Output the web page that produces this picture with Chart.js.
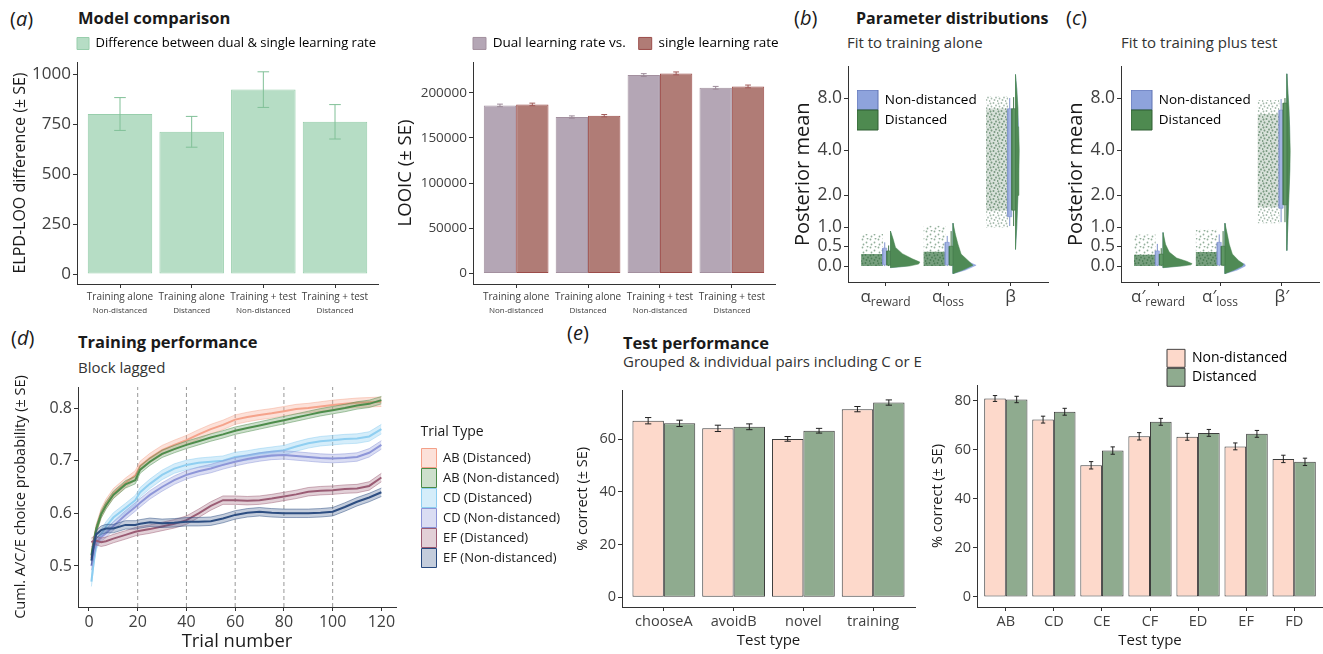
<!DOCTYPE html>
<html>
<head>
<meta charset="utf-8">
<title>Model comparison, parameter distributions, training and test performance</title>
<script src="https://cdn.jsdelivr.net/npm/chart.js@4.4.1/dist/chart.umd.min.js"></script>
<style>
  body { margin: 0; background: #fff; }
  #fig { position: relative; width: 1323px; height: 654px; overflow: hidden; font-family: "Open Sans", sans-serif; color: #1a1a1a; }
  #fig canvas { position: absolute; }
  .txt { position: absolute; white-space: nowrap; line-height: 1; }
  .tag { font-size: 20px; }
  .head { font-size: 16.5px; font-weight: 700; }
  .sub { font-size: 15px; color: #333; }
</style>
</head>
<body>
<div id="fig">
  <div class="txt tag" style="left:10px;top:9px">(<i>a</i>)</div>
  <div class="txt head" style="left:78px;top:10px">Model comparison</div>
  <div class="txt tag" style="left:794px;top:8px">(<i>b</i>)</div>
  <div class="txt head" style="left:856px;top:9.5px;font-size:16px">Parameter distributions</div>
  <div class="txt sub" style="left:847px;top:35px">Fit to training alone</div>
  <div class="txt tag" style="left:1066px;top:8px">(<i>c</i>)</div>
  <div class="txt sub" style="left:1121px;top:35px">Fit to training plus test</div>
  <div class="txt tag" style="left:11px;top:328px">(<i>d</i>)</div>
  <div class="txt head" style="left:78px;top:334px">Training performance</div>
  <div class="txt sub" style="left:78px;top:359.5px">Block lagged</div>
  <div class="txt tag" style="left:567px;top:322.5px">(<i>e</i>)</div>
  <div class="txt head" style="left:623px;top:335px">Test performance</div>
  <div class="txt sub" style="left:623px;top:353.5px">Grouped &amp; individual pairs including C or E</div>
</div>
<script>
// ---- (a) model comparison ----
const MODEL_FITS = ['Training alone', 'Training alone', 'Training + test', 'Training + test'];
const MODEL_GROUPS = ['Non-distanced', 'Distanced', 'Non-distanced', 'Distanced'];
const ELPD_DIFF = [800, 711, 922, 761];
const ELPD_SE = [82, 77, 89, 86];
const ELPD_TICKS = [0, 250, 500, 750, 1000];
const LOOIC_DUAL = [186000, 173100, 219500, 205500];
const LOOIC_SINGLE = [187100, 174600, 221400, 207000];
const LOOIC_SE = [1400, 1300, 1600, 1500];
const LOOIC_TICKS = [0, 50000, 100000, 150000, 200000];

// ---- (b) (c) parameter distributions ----
const PARAM_TICKS = [0, 0.5, 1, 2, 4, 8];
const B_NAMES = [['α', 'reward'], ['α', 'loss'], ['β', '']];
const C_NAMES = [['α′', 'reward'], ['α′', 'loss'], ['β′', '']];
// jittered posterior means: full spread and dense core
const B_CLOUD = [[0, 0.82], [0, 1.05], [1.0, 8.2]];
const B_CORE = [[0, 0.3], [0, 0.36], [1.5, 7.0]];
// boxplots: [lower whisker, Q1, Q3, upper whisker]
const B_BOX_ND = [[0, 0.03, 0.45, 0.6], [0, 0.03, 0.6, 0.77], [1.04, 1.31, 6.97, 8.0]];
const B_BOX_D = [[0, 0.02, 0.38, 0.52], [0, 0.02, 0.5, 0.9], [1.04, 1.51, 6.98, 8.1]];
// half violins: value levels and density widths
const B_VIO_Y = [[-0.04, 0, 0.05, 0.1, 0.18, 0.31, 0.47, 0.7, 0.9], [-0.19, -0.1, 0.02, 0.14, 0.3, 0.55, 0.8, 1.12], [0.42, 1, 2, 3, 4, 5.5, 7, 9, 10.8]];
const B_VIO_D = [[0, 0.3, 0.45, 0.47, 0.35, 0.19, 0.08, 0.04, 0], [0, 0.16, 0.32, 0.24, 0.13, 0.08, 0.04, 0], [0, 0.02, 0.04, 0.055, 0.06, 0.05, 0.04, 0.02, 0]];
const B_VIO_ND = [[0, 0.25, 0.38, 0.4, 0.3, 0.16, 0.07, 0.03, 0], [0, 0.2, 0.37, 0.2, 0.1, 0.06, 0.03, 0], [0, 0.02, 0.035, 0.05, 0.055, 0.045, 0.035, 0.02, 0]];
const C_CLOUD = [[0, 0.81], [0, 0.94], [1.12, 7.8]];
const C_CORE = [[0, 0.28], [0, 0.35], [1.6, 6.5]];
const C_BOX_ND = [[0, 0.02, 0.38, 0.56], [0, 0.03, 0.6, 0.81], [1.15, 1.57, 6.85, 7.9]];
const C_BOX_D = [[0, 0.02, 0.3, 0.45], [0, 0.02, 0.5, 0.9], [1.15, 1.68, 7.5, 8.0]];
const C_VIO_Y = [[-0.04, 0, 0.03, 0.06, 0.12, 0.2, 0.35, 0.55, 0.86], [-0.19, -0.1, 0, 0.05, 0.14, 0.3, 0.55, 0.8, 1.12], [0.39, 1, 2, 3, 4, 5.5, 7, 9, 10.9]];
const C_VIO_D = [[0, 0.3, 0.45, 0.47, 0.38, 0.22, 0.1, 0.04, 0], [0, 0.15, 0.28, 0.3, 0.22, 0.12, 0.07, 0.04, 0], [0, 0.015, 0.035, 0.05, 0.055, 0.045, 0.035, 0.015, 0]];
const C_VIO_ND = [[0, 0.25, 0.38, 0.4, 0.32, 0.18, 0.08, 0.03, 0], [0, 0.2, 0.33, 0.32, 0.18, 0.1, 0.06, 0.03, 0], [0, 0.015, 0.03, 0.045, 0.05, 0.04, 0.03, 0.015, 0]];

// ---- (d) training performance ----
const TRIALS = [1, 2, 3, 5, 7, 10, 15, 19, 21, 25, 30, 35, 40, 45, 50, 55, 60, 65, 70, 75, 80, 85, 90, 95, 100, 105, 110, 115, 120];
const AB_DIST = [.515, .545, .570, .600, .618, .638, .658, .672, .690, .705, .720, .730, .739, .750, .760, .768, .778, .783, .787, .790, .794, .798, .800, .803, .806, .808, .810, .811, .812];
const AB_NONDIST = [.520, .548, .570, .598, .615, .635, .655, .663, .683, .698, .713, .722, .730, .737, .744, .750, .757, .762, .767, .772, .777, .782, .787, .792, .796, .800, .805, .808, .815];
const CD_DIST = [.470, .510, .540, .560, .575, .592, .610, .625, .640, .656, .673, .685, .692, .696, .698, .700, .707, .710, .714, .717, .720, .727, .733, .737, .739, .741, .742, .746, .760];
const CD_NONDIST = [.500, .525, .545, .555, .562, .576, .597, .612, .620, .635, .650, .663, .673, .680, .685, .692, .698, .703, .707, .710, .711, .709, .707, .705, .704, .705, .707, .715, .730];
const EF_DIST = [.545, .548, .548, .545, .547, .552, .559, .565, .567, .570, .575, .580, .587, .600, .614, .625, .625, .624, .625, .628, .632, .636, .641, .643, .644, .646, .647, .652, .668];
const EF_NONDIST = [.510, .540, .560, .568, .571, .571, .578, .578, .580, .583, .581, .582, .584, .584, .585, .590, .597, .601, .603, .601, .600, .600, .600, .601, .603, .612, .622, .630, .640];
const TRIAL_TYPES = ['AB (Distanced)', 'AB (Non-distanced)', 'CD (Distanced)', 'CD (Non-distanced)', 'EF (Distanced)', 'EF (Non-distanced)'];
const TRIAL_SE = [0.009, 0.007, 0.009, 0.008, 0.008, 0.008];
const BLOCK_EDGES = [20, 40, 60, 80, 100];
const TRIAL_TICKS = [0, 20, 40, 60, 80, 100, 120];
const PROB_TICKS = [0.5, 0.6, 0.7, 0.8];

// ---- (e) test performance ----
const TEST_TYPES = ['chooseA', 'avoidB', 'novel', 'training'];
const TEST_ND = [67.0, 64.1, 60.1, 71.4];
const TEST_D = [66.0, 64.7, 63.2, 73.9];
const TEST_ND_SE = [1.2, 1.2, 0.9, 1.0];
const TEST_D_SE = [1.2, 1.1, 0.9, 1.0];
const TEST_TICKS = [0, 20, 40, 60];
const PAIRS = ['AB', 'CD', 'CE', 'CF', 'ED', 'EF', 'FD'];
const PAIR_ND = [80.8, 72.2, 53.6, 65.4, 65.2, 61.3, 56.2];
const PAIR_D = [80.4, 75.4, 59.6, 71.3, 66.8, 66.4, 55.0];
const PAIR_ND_SE = [1.2, 1.4, 1.5, 1.5, 1.4, 1.4, 1.5];
const PAIR_D_SE = [1.3, 1.4, 1.5, 1.4, 1.4, 1.4, 1.5];
const PAIR_TICKS = [0, 20, 40, 60, 80];

const FONT = '"Open Sans", sans-serif';
Chart.defaults.font.family = FONT;
Chart.defaults.color = '#404040';
Chart.defaults.animation = false;

const TICK = '#404040';
const PINK = '#fdd9cb', SAGE = '#8fab8f', OUTLINE = '#3d3d3d';
const fig = document.getElementById('fig');

// pseudo-log y scale (asinh(x / 2)), as used for the parameter panels
const plog = v => Math.asinh(v / 2);
class PseudoLogScale extends Chart.LinearScale {
  static id = 'pseudoLog';
  getPixelForValue(value) {
    const a = plog(this.min), b = plog(this.max);
    return this.getPixelForDecimal((plog(value) - a) / (b - a));
  }
  getValueForPixel(pixel) {
    const a = plog(this.min), b = plog(this.max);
    return 2 * Math.sinh(a + this.getDecimalForPixel(pixel) * (b - a));
  }
}
Chart.register(PseudoLogScale);

function makeCanvas(area, m) {
  const c = document.createElement('canvas');
  const left = area.l - m.left, top = area.t - m.top;
  const w = area.r + m.right - left, h = area.b + m.bottom - top;
  c.width = w;
  c.height = h;
  Object.assign(c.style, { left: left + 'px', top: top + 'px', width: w + 'px', height: h + 'px' });
  fig.appendChild(c);
  return c;
}

function axis(o) {
  return {
    type: o.type || 'linear',
    position: o.pos,
    min: o.min,
    max: o.max,
    offset: false,
    afterBuildTicks: s => { s.ticks = o.ticks.map(v => ({ value: v })); },
    afterFit: s => { if (o.pos === 'left') s.width = o.fit; else s.height = o.fit; },
    grid: { display: true, offset: false, drawOnChartArea: false, drawTicks: true, tickLength: 4, tickColor: '#333', color: '#333', lineWidth: 1 },
    border: { display: true, color: '#333', width: 1 },
    ticks: {
      display: o.showLabels !== false, color: TICK, padding: o.pad ?? 2, font: { size: o.size || 14 },
      autoSkip: false, maxRotation: 0, minRotation: 0,
      callback: (v, i) => (o.labels ? o.labels[i] : v)
    },
    title: { display: !!o.title, text: o.title, color: '#1a1a1a', font: { size: o.titleSize || 15 }, padding: { top: 2, bottom: 2 } }
  };
}

const errorBars = {
  id: 'errorBars',
  afterDatasetsDraw(chart) {
    const ctx = chart.ctx, ys = chart.scales.y;
    chart.data.datasets.forEach((ds, di) => {
      if (!ds.errors) return;
      ctx.save();
      ctx.strokeStyle = ds.errorColor;
      ctx.lineWidth = 1;
      chart.getDatasetMeta(di).data.forEach((bar, i) => {
        const v = ds.data[i].y, e = ds.errors[i];
        const hi = ys.getPixelForValue(v + e), lo = ys.getPixelForValue(v - e);
        const half = bar.width * ds.capRatio / 2;
        ctx.beginPath();
        ctx.moveTo(bar.x, hi); ctx.lineTo(bar.x, lo);
        ctx.moveTo(bar.x - half, hi); ctx.lineTo(bar.x + half, hi);
        ctx.moveTo(bar.x - half, lo); ctx.lineTo(bar.x + half, lo);
        ctx.stroke();
      });
      ctx.restore();
    });
  }
};

// second, smaller line under the category labels of panel (a)
const subLabels = {
  id: 'subLabels',
  afterDraw(chart, args, opts) {
    if (!opts.labels) return;
    const ctx = chart.ctx, xs = chart.scales.x;
    ctx.save();
    ctx.font = opts.size + 'px ' + FONT;
    ctx.fillStyle = TICK;
    ctx.textAlign = 'center';
    ctx.textBaseline = 'middle';
    opts.labels.forEach((t, i) => ctx.fillText(t, xs.getPixelForTick(i), xs.top + opts.dy));
    ctx.restore();
  }
};

// parameter names with subscripts for panels (b) and (c)
const paramLabels = {
  id: 'paramLabels',
  afterDraw(chart, args, opts) {
    if (!opts.names) return;
    const ctx = chart.ctx, xs = chart.scales.x;
    ctx.save();
    ctx.fillStyle = TICK;
    ctx.textAlign = 'left';
    ctx.textBaseline = 'alphabetic';
    opts.names.forEach(([main, sub], i) => {
      ctx.font = '17px ' + FONT;
      const w1 = ctx.measureText(main).width;
      ctx.font = '12px ' + FONT;
      const w2 = sub ? ctx.measureText(sub).width : 0;
      const x0 = xs.getPixelForTick(i) - (w1 + w2) / 2, y0 = xs.top + opts.dy;
      ctx.font = '17px ' + FONT;
      ctx.fillText(main, x0, y0);
      if (sub) {
        ctx.font = '12px ' + FONT;
        ctx.fillText(sub, x0 + w1, y0 + 4);
      }
    });
    ctx.restore();
  }
};

// put the legend box at a fixed spot on the page (legend is clipped to its own box)
const placeLegend = {
  id: 'placeLegend',
  afterInit(chart, args, opts) {
    const lg = chart.legend;
    if (opts.horizontal && lg) {
      lg.isHorizontal = () => true;
      const update = lg.update;
      lg.update = function (w, h, margins) { return update.call(this, 1000, h, margins); };
    }
  },
  afterLayout(chart, args, opts) {
    const lg = chart.legend;
    if (!lg || opts.x === undefined) return;
    const w = lg.width, h = lg.height;
    lg.left = opts.x - parseFloat(chart.canvas.style.left);
    lg.top = opts.y - parseFloat(chart.canvas.style.top);
    lg.right = lg.left + w;
    lg.bottom = lg.top + h;
  }
};

function legendCfg(items, lab, title) {
  return {
    display: true,
    position: 'chartArea',
    align: 'start',
    title: title ? { display: true, text: title, position: 'start', color: '#1a1a1a', font: { size: 14 }, padding: { top: 0, bottom: 6 } } : { display: false },
    labels: Object.assign({ color: '#1a1a1a', generateLabels: () => items.map((it, i) => Object.assign({ hidden: false, datasetIndex: i, lineWidth: 1 }, it)) }, lab)
  };
}

function chartOptions(m, x, y, plugins) {
  return {
    responsive: false,
    animation: false,
    layout: { padding: { left: 0, top: m.top, right: m.right, bottom: 0 } },
    scales: { x, y },
    plugins: Object.assign({ tooltip: { enabled: false }, legend: { display: false } }, plugins)
  };
}

const pts = (vals, off) => vals.map((v, i) => ({ x: i + 1, y: v + (off || 0) }));

// ---------- (a) left: ELPD-LOO difference ----------
{
  const area = { l: 77, t: 62, r: 378, b: 284 }, m = { left: 68, top: 45, right: 30, bottom: 40 };
  new Chart(makeCanvas(area, m), {
    type: 'bar',
    data: {
      datasets: [{
        data: pts(ELPD_DIFF), backgroundColor: 'rgba(178,219,194,0.95)', borderColor: '#98ceac', borderWidth: 1, borderSkipped: false,
        categoryPercentage: 0.9, barPercentage: 1, errors: ELPD_SE, errorColor: '#80c097', capRatio: 0.18
      }]
    },
    options: chartOptions(m,
      axis({ pos: 'bottom', min: 0.4, max: 4.6, ticks: [1, 2, 3, 4], labels: MODEL_FITS, size: 10, pad: 3, fit: 40 }),
      axis({ pos: 'left', min: -50, max: 1060, ticks: ELPD_TICKS, size: 17, title: 'ELPD-LOO difference (± SE)', titleSize: 16, fit: 68 }),
      {
        subLabels: { labels: MODEL_GROUPS, size: 8, dy: 27 },
        legend: legendCfg([{ text: 'Difference between dual & single learning rate', fillStyle: 'rgba(178,219,194,0.95)', strokeStyle: '#98ceac' }],
          { boxWidth: 12, boxHeight: 12, padding: 13, font: { size: 13 } }),
        placeLegend: { x: 64, y: 24, horizontal: true }
      }),
    plugins: [errorBars, subLabels, placeLegend]
  });
}

// ---------- (a) right: LOOIC ----------
{
  const area = { l: 473, t: 62, r: 775, b: 284 }, m = { left: 80, top: 45, right: 6, bottom: 40 };
  new Chart(makeCanvas(area, m), {
    type: 'bar',
    data: {
      datasets: [
        { data: pts(LOOIC_DUAL), backgroundColor: '#b4a6b5', borderColor: '#a3909f', borderWidth: 1, borderSkipped: false, categoryPercentage: 0.9, barPercentage: 1, errors: LOOIC_SE, errorColor: '#9c8a98', capRatio: 0.18 },
        { data: pts(LOOIC_SINGLE), backgroundColor: '#b07c76', borderColor: '#9c4d4a', borderWidth: 1, borderSkipped: false, categoryPercentage: 0.9, barPercentage: 1, errors: LOOIC_SE, errorColor: '#a05a58', capRatio: 0.18 }
      ]
    },
    options: chartOptions(m,
      axis({ pos: 'bottom', min: 0.4, max: 4.6, ticks: [1, 2, 3, 4], labels: MODEL_FITS, size: 10, pad: 3, fit: 40 }),
      axis({ pos: 'left', min: -11500, max: 234000, ticks: LOOIC_TICKS, size: 13.5, title: 'LOOIC (± SE)', titleSize: 18.5, fit: 80 }),
      {
        subLabels: { labels: MODEL_GROUPS, size: 8, dy: 27 },
        legend: legendCfg([
          { text: 'Dual learning rate vs.', fillStyle: '#b4a6b5', strokeStyle: '#a3909f' },
          { text: 'single learning rate', fillStyle: '#b07c76', strokeStyle: '#9c4d4a' }
        ], { boxWidth: 13, boxHeight: 12, padding: 13, font: { size: 13.5 } }),
        placeLegend: { x: 460, y: 23.7, horizontal: true }
      }),
    plugins: [errorBars, subLabels, placeLegend]
  });
}

// ---------- (b) (c) raincloud panels ----------
function speckle(bg, dot, spots) {
  const c = document.createElement('canvas');
  c.width = 8;
  c.height = 8;
  const g = c.getContext('2d');
  if (bg) { g.fillStyle = bg; g.fillRect(0, 0, 8, 8); }
  g.fillStyle = dot;
  spots.forEach(([x, y]) => { g.beginPath(); g.arc(x, y, 0.9, 0, Math.PI * 2); g.fill(); });
  return g.createPattern(c, 'repeat');
}
const FEW = [[1.5, 1.5], [5.5, 4.5], [2.5, 6.5], [6.5, 0.5]];
const MANY = [[1.5, 1.5], [4.5, 1], [7, 3.5], [2.5, 4.5], [5.5, 6], [0.5, 7]];
const CLOUD_STYLE = {
  sparse: speckle(null, '#93af9b', FEW),
  core: speckle('#779f7e', '#4d7f57', MANY),
  betaSparse: speckle(null, '#a5baac', MANY),
  betaCore: speckle('rgba(185,202,190,0.55)', '#7b9b83', MANY)
};

function rainDatasets(cloud, core, boxND, boxD, vioY, vioD, vioND) {
  const out = [];
  const rect = (x0, x1, y0, y1) => [{ x: x0, y: y0 }, { x: x1, y: y0 }, { x: x1, y: y1 }, { x: x0, y: y1 }, { x: x0, y: y0 }];
  const shape = (data, bg, border, bw) => ({ data, showLine: true, fill: 'shape', backgroundColor: bg, borderColor: border, borderWidth: bw, pointRadius: 0, tension: 0 });
  const half = (cx, ys, ws) => {
    const x0 = cx + 0.08;
    return [{ x: x0, y: ys[0] }, ...ys.map((y, i) => ({ x: x0 + ws[i], y })), { x: x0, y: ys[ys.length - 1] }, { x: x0, y: ys[0] }];
  };
  cloud.forEach((c, i) => {
    const cx = i + 1, beta = i === 2;
    out.push(shape(rect(cx - 0.39, cx - 0.04, c[0], c[1]), beta ? CLOUD_STYLE.betaSparse : CLOUD_STYLE.sparse, 'rgba(0,0,0,0)', 0));
    out.push(shape(rect(cx - 0.39, cx - 0.04, core[i][0], core[i][1]), beta ? CLOUD_STYLE.betaCore : CLOUD_STYLE.core, 'rgba(0,0,0,0)', 0));
    out.push(shape(half(cx, vioY[i], vioND[i]), '#8fa5df', '#8fa5df', 0.5));
    out.push(shape(half(cx, vioY[i], vioD[i]), '#4f8a55', '#4f8a55', 0.5));
    [[boxND[i], -0.045, 0.02, '#a3b4e3', '#7f92cc'], [boxD[i], 0.02, 0.08, '#5e9764', '#3f7446']].forEach(([b, a0, a1, bg, bd]) => {
      const xm = cx + (a0 + a1) / 2;
      out.push({ data: [{ x: xm, y: b[0] }, { x: xm, y: b[3] }], showLine: true, borderColor: bd, borderWidth: 1, pointRadius: 0 });
      out.push(shape(rect(cx + a0, cx + a1, b[1], b[2]), bg, bd, 0.6));
    });
  });
  return out.reverse();
}

function rainChart(area, names, datasets, legendX) {
  const m = { left: 59, top: 8, right: 4, bottom: 30 };
  new Chart(makeCanvas(area, m), {
    type: 'scatter',
    data: { datasets },
    options: chartOptions(m,
      axis({ pos: 'bottom', min: 0.4, max: 3.6, ticks: [1, 2, 3], showLabels: false, fit: 30 }),
      axis({ type: 'pseudoLog', pos: 'left', min: -0.4, max: 11.96, ticks: PARAM_TICKS, labels: PARAM_TICKS.map(v => v.toFixed(1)), size: 17.5, title: 'Posterior mean', titleSize: 20, fit: 59 }),
      {
        paramLabels: { names, dy: 20 },
        legend: legendCfg([
          { text: 'Non-distanced', fillStyle: '#8ea3dc', strokeStyle: '#5f73b3' },
          { text: 'Distanced', fillStyle: '#4e8a50', strokeStyle: '#2f5f33' }
        ], { boxWidth: 21, boxHeight: 20, padding: 0, font: { size: 13.5 } }),
        placeLegend: { x: legendX, y: 90 }
      }),
    plugins: [paramLabels, placeLegend]
  });
}
rainChart({ l: 848, t: 62, r: 1048, b: 282 }, B_NAMES, rainDatasets(B_CLOUD, B_CORE, B_BOX_ND, B_BOX_D, B_VIO_Y, B_VIO_D, B_VIO_ND), 857);
rainChart({ l: 1121, t: 62, r: 1319, b: 282 }, C_NAMES, rainDatasets(C_CLOUD, C_CORE, C_BOX_ND, C_BOX_D, C_VIO_Y, C_VIO_D, C_VIO_ND), 1131);

// ---------- (d) training performance ----------
{
  const area = { l: 78, t: 387, r: 396, b: 607 }, m = { left: 68, top: 22, right: 179, bottom: 48 };
  const Y_RANGE = [0.422, 0.84];
  const SERIES = [AB_DIST, AB_NONDIST, CD_DIST, CD_NONDIST, EF_DIST, EF_NONDIST];
  const STYLE = [
    { line: '#f4a088', band: 'rgba(246,168,145,0.35)', edge: 'rgba(244,160,136,0.55)' },
    { line: '#4a8a48', band: 'rgba(90,150,85,0.3)', edge: 'rgba(74,138,72,0.6)' },
    { line: '#8ccdf0', band: 'rgba(150,210,242,0.4)', edge: 'rgba(140,205,240,0.6)' },
    { line: '#8a93d6', band: 'rgba(150,158,220,0.35)', edge: 'rgba(138,147,214,0.6)' },
    { line: '#995a72', band: 'rgba(160,100,124,0.3)', edge: 'rgba(153,90,114,0.6)' },
    { line: '#27497e', band: 'rgba(60,90,140,0.3)', edge: 'rgba(39,73,126,0.6)' }
  ];
  const datasets = [];
  SERIES.forEach((vals, k) => {
    const st = STYLE[k], se = TRIAL_SE[k], order = SERIES.length - k;
    const line = off => TRIALS.map((t, i) => ({ x: t, y: vals[i] + off }));
    datasets.push({ data: line(se), borderColor: st.edge, borderWidth: 0.8, backgroundColor: st.band, fill: '+1', pointRadius: 0, order });
    datasets.push({ data: line(-se), borderColor: st.edge, borderWidth: 0.8, fill: false, pointRadius: 0, order });
    datasets.push({ data: line(0), borderColor: st.line, borderWidth: 2, fill: false, pointRadius: 0, order });
  });
  BLOCK_EDGES.forEach(t => datasets.push({
    data: [{ x: t, y: Y_RANGE[0] }, { x: t, y: Y_RANGE[1] }],
    borderColor: '#8c8c8c', borderDash: [4, 3], borderWidth: 0.9, pointRadius: 0, fill: false, order: 99
  }));
  new Chart(makeCanvas(area, m), {
    type: 'line',
    data: { datasets },
    options: chartOptions(m,
      axis({ pos: 'bottom', min: -4.5, max: 126, ticks: TRIAL_TICKS, size: 16, title: 'Trial number', titleSize: 18.4, fit: 48 }),
      axis({ pos: 'left', min: Y_RANGE[0], max: Y_RANGE[1], ticks: PROB_TICKS, size: 16, title: 'Cuml. A/C/E choice probability (± SE)', titleSize: 14.5, fit: 68 }),
      {
        legend: legendCfg(TRIAL_TYPES.map((t, k) => ({ text: t, fillStyle: STYLE[k].band, strokeStyle: STYLE[k].line })),
          { boxWidth: 15, boxHeight: 19, padding: 1, font: { size: 13 } }, 'Trial Type'),
        placeLegend: { x: 420.5, y: 424.7 }
      }),
    plugins: [placeLegend]
  });
}

// ---------- (e) test performance ----------
function testChart(area, m, cats, nd, d, ndSe, dSe, ticks, yMax, legendAt) {
  const bars = (vals, se, color) => ({
    data: pts(vals), backgroundColor: color, borderColor: OUTLINE, borderWidth: 1, borderSkipped: false,
    categoryPercentage: 0.9, barPercentage: 1, errors: se, errorColor: '#222', capRatio: 0.2
  });
  const plugins = {};
  if (legendAt) {
    plugins.legend = legendCfg([
      { text: 'Non-distanced', fillStyle: PINK, strokeStyle: OUTLINE },
      { text: 'Distanced', fillStyle: SAGE, strokeStyle: OUTLINE }
    ], { boxWidth: 18, boxHeight: 18, padding: 1, font: { size: 14 } });
    plugins.placeLegend = legendAt;
  }
  new Chart(makeCanvas(area, m), {
    type: 'bar',
    data: { datasets: [bars(nd, ndSe, PINK), bars(d, dSe, SAGE)] },
    options: chartOptions(m,
      axis({ pos: 'bottom', min: 0.4, max: cats.length + 0.6, ticks: cats.map((c, i) => i + 1), labels: cats, size: 14.5, title: 'Test type', titleSize: 15, fit: 45 }),
      axis({ pos: 'left', min: -yMax * 0.0476, max: yMax, ticks, size: 14.5, title: '% correct (± SE)', titleSize: 14.5, fit: 50 }),
      plugins),
    plugins: [errorBars, placeLegend]
  });
}
testChart({ l: 622, t: 387, r: 915, b: 607 }, { left: 50, top: 7, right: 5, bottom: 45 },
  TEST_TYPES, TEST_ND, TEST_D, TEST_ND_SE, TEST_D_SE, TEST_TICKS, 78.4, null);
testChart({ l: 977, t: 385, r: 1323, b: 607 }, { left: 50, top: 45, right: 0, bottom: 45 },
  PAIRS, PAIR_ND, PAIR_D, PAIR_ND_SE, PAIR_D_SE, PAIR_TICKS, 86.3, { x: 1166, y: 348.3 });
</script>
</body>
</html>
